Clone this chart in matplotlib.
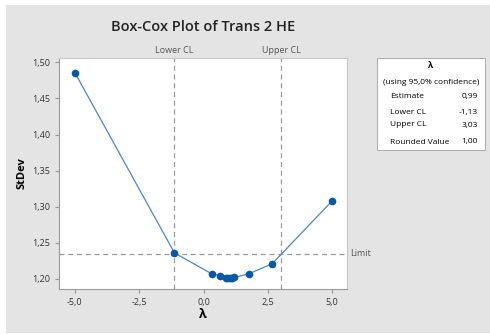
import numpy as np
import matplotlib.pyplot as plt
from matplotlib.patches import Rectangle

# lambda values and the standard deviation of the transformed data
lambdas = [-5.0, -1.13, 0.32, 0.66, 0.87, 0.93, 0.99, 1.05, 1.11, 1.20, 1.76, 2.67, 5.0]
stdevs = [1.4855, 1.2360, 1.2070, 1.2046, 1.2016, 1.2013, 1.2012, 1.2013, 1.2016, 1.2020, 1.2070, 1.2210, 1.3080]

limit = 1.2346
lower_cl = -1.13
upper_cl = 3.03
estimate = 0.99
rounded = 1.00

xticks = [-5.0, -2.5, 0.0, 2.5, 5.0]
yticks = [1.20, 1.25, 1.30, 1.35, 1.40, 1.45, 1.50]

def comma(v, nd):
    return f"{v:.{nd}f}".replace(".", ",")

plt.rcParams['font.family'] = ['Open Sans', 'DejaVu Sans']

W, H = 490, 334
fig = plt.figure(figsize=(W / 100, H / 100), dpi=100)
fig.patch.set_facecolor('white')
# grey panel behind everything
fig.patches.append(Rectangle((6 / W, 1 - 333 / H), 484 / W, 328 / H,
                             transform=fig.transFigure, facecolor='#e4e4e4',
                             edgecolor='none', zorder=-10))

ax = fig.add_axes([59 / W, 1 - 289 / H, 288 / W, 231 / H])
ax.set_facecolor('white')
ax.set_xlim(-5.62, 5.58)
ax.set_ylim(1.186, 1.506)

ax.axhline(limit, color='#9a9a9a', ls=(0, (4, 3)), lw=0.9, zorder=1)
ax.axvline(lower_cl, color='#9a9a9a', ls=(0, (4, 3)), lw=0.9, zorder=1)
ax.axvline(upper_cl, color='#9a9a9a', ls=(0, (4, 3)), lw=0.9, zorder=1)

ax.plot(lambdas, stdevs, color='#4a86c8', lw=0.9, zorder=2)
ax.plot(lambdas, stdevs, 'o', color='#0a56a8', ms=4.5, zorder=3)

ax.set_xticks(xticks)
ax.set_xticklabels([comma(v, 1) for v in xticks])
ax.set_yticks(yticks)
ax.set_yticklabels([comma(v, 2) for v in yticks])
ax.tick_params(labelsize=6.5, colors='#333333', length=3, color='#999999', width=0.8)
for s in ['top', 'right']:
    ax.spines[s].set_color('#c8c8c8')
for s in ['left', 'bottom']:
    ax.spines[s].set_color('#999999')
for s in ax.spines.values():
    s.set_linewidth(0.8)

ax.set_xlabel('λ', fontsize=9, fontweight='bold', labelpad=1)
ax.set_ylabel('StDev', fontsize=8, fontweight='bold', labelpad=3)

ax.text(lower_cl, 1.015, 'Lower CL', transform=ax.get_xaxis_transform(),
        ha='center', va='bottom', fontsize=6.5, color='#555555')
ax.text(upper_cl, 1.015, 'Upper CL', transform=ax.get_xaxis_transform(),
        ha='center', va='bottom', fontsize=6.5, color='#555555')
ax.text(1.01, limit, 'Limit', transform=ax.get_yaxis_transform(),
        ha='left', va='center', fontsize=6.5, color='#555555')

fig.text(203 / W, 1 - 27 / H, 'Box-Cox Plot of Trans 2 HE', ha='center', va='center',
         fontsize=10.5, fontweight='semibold', color='#222222')

# summary box on the right
fig.patches.append(Rectangle((377 / W, 1 - 150 / H), 108 / W, 92 / H,
                             transform=fig.transFigure, facecolor='white',
                             edgecolor='#b0b0b0', lw=0.8))
fig.text(431 / W, 1 - 65 / H, 'λ', ha='center', va='center', fontsize=6, fontweight='bold')
fig.text(431 / W, 1 - 82 / H, '(using 95,0% confidence)', ha='center', va='center', fontsize=6)
rows = [('Estimate', comma(estimate, 2), 96),
        ('Lower CL', comma(lower_cl, 2), 113),
        ('Upper CL', comma(upper_cl, 2), 125),
        ('Rounded Value', comma(rounded, 2), 142)]
for label, val, y in rows:
    fig.text(390 / W, 1 - y / H, label, ha='left', va='center', fontsize=6)
    fig.text(478 / W, 1 - y / H, val, ha='right', va='center', fontsize=6)

fig.savefig('out.png', dpi=100)
